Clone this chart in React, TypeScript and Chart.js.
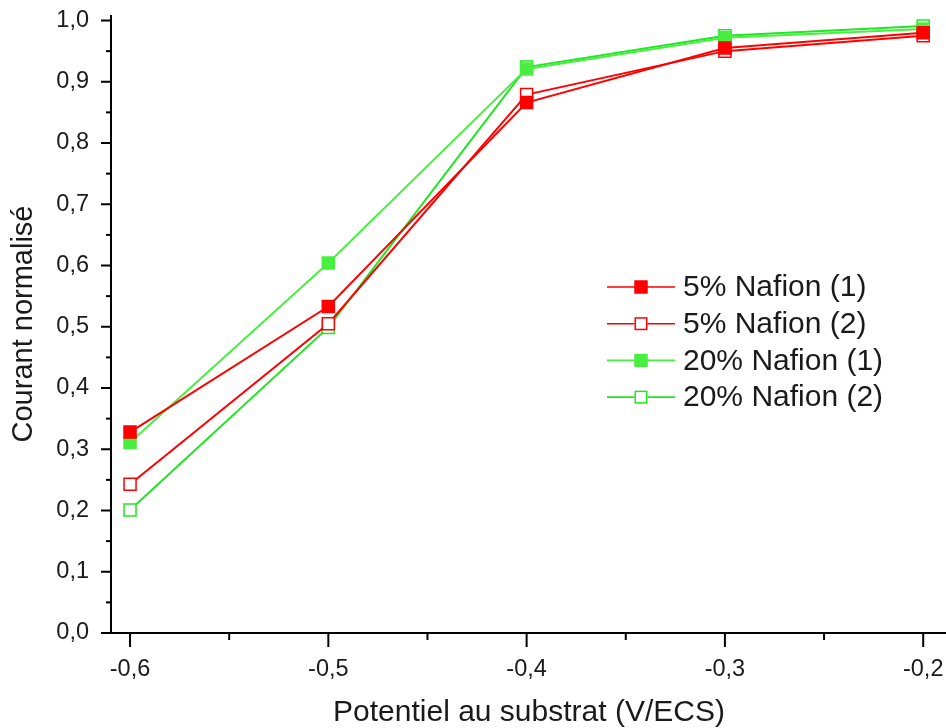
import React, { useEffect, useRef } from "react";
import { Chart, registerables } from "chart.js";

Chart.register(...registerables);

const potentials = [-0.6, -0.5, -0.4, -0.3, -0.2];
const nafion5_1 = [0.328, 0.533, 0.866, 0.955, 0.98];
const nafion5_2 = [0.243, 0.505, 0.879, 0.95, 0.975];
const nafion20_1 = [0.311, 0.604, 0.921, 0.972, 0.986];
const nafion20_2 = [0.201, 0.499, 0.924, 0.975, 0.991];
const seriesLabels = ["5% Nafion (1)", "5% Nafion (2)", "20% Nafion (1)", "20% Nafion (2)"];
const xTickValues = [-0.6, -0.5, -0.4, -0.3, -0.2];
const yTickValues = [0, 0.1, 0.2, 0.3, 0.4, 0.5, 0.6, 0.7, 0.8, 0.9, 1.0];

const RED = "#ff0000";
const GREEN1 = "#48ee40";
const GREEN2 = "#1fe61f";
const FONT = "'Liberation Sans', Arial, sans-serif";

const toPoints = (ys: number[]) => potentials.map((x, i) => ({ x, y: ys[i] }));

const axesPlugin = {
  id: "originAxes",
  afterDraw(chart: any) {
    const { ctx, chartArea, scales } = chart;
    const xs = scales.x;
    const ys = scales.y;
    ctx.save();
    ctx.strokeStyle = "#000";
    ctx.lineWidth = 2;
    ctx.lineCap = "butt";
    ctx.beginPath();
    ctx.moveTo(chartArea.left, chartArea.top);
    ctx.lineTo(chartArea.left, chartArea.bottom + 1);
    ctx.moveTo(chartArea.left - 1, chartArea.bottom);
    ctx.lineTo(chartArea.right, chartArea.bottom);
    ctx.stroke();
    for (let i = 0; i <= 20; i++) {
      const v = i * 0.05;
      const py = ys.getPixelForValue(v);
      const len = i % 2 === 0 ? 10 : 5;
      ctx.beginPath();
      ctx.moveTo(chartArea.left - len, py);
      ctx.lineTo(chartArea.left, py);
      ctx.stroke();
    }
    for (let i = 0; i <= 8; i++) {
      const v = -0.6 + i * 0.05;
      const px = xs.getPixelForValue(v);
      const len = i % 2 === 0 ? 14 : 7;
      ctx.beginPath();
      ctx.moveTo(px, chartArea.bottom);
      ctx.lineTo(px, chartArea.bottom + len);
      ctx.stroke();
    }
    const lx0 = 607;
    const lx1 = 675;
    const ly0 = 287;
    const dy = 36.7;
    chart.data.datasets.forEach((ds: any, i: number) => {
      const y = ly0 + i * dy;
      ctx.strokeStyle = ds.borderColor;
      ctx.lineWidth = 1.6;
      ctx.beginPath();
      ctx.moveTo(lx0, y);
      ctx.lineTo(lx1, y);
      ctx.stroke();
      const s = 13;
      const cx = (lx0 + lx1) / 2;
      ctx.fillStyle = ds.pointBackgroundColor;
      ctx.fillRect(cx - s / 2, y - s / 2, s, s);
      ctx.lineWidth = 1.5;
      ctx.strokeStyle = ds.pointBorderColor;
      ctx.strokeRect(cx - s / 2 + 0.75, y - s / 2 + 0.75, s - 1.5, s - 1.5);
      ctx.fillStyle = "#1a1a1a";
      ctx.font = `30px ${FONT}`;
      ctx.textAlign = "left";
      ctx.textBaseline = "middle";
      ctx.fillText(ds.label, 683, y + 1);
    });
    ctx.restore();
  },
};

export default function App() {
  const ref = useRef<HTMLCanvasElement | null>(null);
  useEffect(() => {
    if (!ref.current) return;
    const mk = (label: string, data: number[], color: string, filled: boolean) => ({
      label,
      data: toPoints(data),
      borderColor: color,
      backgroundColor: color,
      borderWidth: 2,
      pointStyle: "rect",
      pointRadius: 8.5,
      pointHoverRadius: 8.5,
      pointBorderWidth: 1.5,
      pointBorderColor: color,
      pointBackgroundColor: filled ? color : "#ffffff",
      tension: 0,
      fill: false,
    });
    const chart = new Chart(ref.current, {
      type: "line",
      data: {
        datasets: [
          mk(seriesLabels[0], nafion5_1, RED, true),
          mk(seriesLabels[1], nafion5_2, RED, false),
          mk(seriesLabels[2], nafion20_1, GREEN1, true),
          mk(seriesLabels[3], nafion20_2, GREEN2, false),
        ],
      },
      options: {
        responsive: false,
        animation: false,
        events: [],
        layout: { padding: { top: 15, right: 0, left: 0, bottom: 0 } },
        plugins: { legend: { display: false }, tooltip: { enabled: false } },
        scales: {
          x: {
            type: "linear",
            min: -0.6096,
            max: -0.188,
            grid: { display: false, drawTicks: false },
            border: { display: false },
            afterBuildTicks: (s: any) => {
              s.ticks = xTickValues.map((v) => ({ value: v }));
            },
            afterFit: (s: any) => {
              s.height = 95;
              s.paddingLeft = 0;
              s.paddingRight = 0;
            },
            ticks: {
              padding: 22,
              color: "#1a1a1a",
              font: { family: FONT, size: 23.5 },
              maxRotation: 0,
              autoSkip: false,
              callback: (v: any) => Number(v).toFixed(1).replace(".", ","),
            },
            title: {
              display: true,
              text: "Potentiel au substrat (V/ECS)",
              color: "#1a1a1a",
              font: { family: FONT, size: 30 },
              padding: { top: 0, bottom: -3 },
            },
          },
          y: {
            type: "linear",
            min: 0,
            max: 1.009,
            grid: { display: false, drawTicks: false },
            border: { display: false },
            afterBuildTicks: (s: any) => {
              s.ticks = yTickValues.map((v) => ({ value: v }));
            },
            afterFit: (s: any) => {
              s.width = 111;
              s.paddingTop = 0;
              s.paddingBottom = 0;
            },
            ticks: {
              padding: 22,
              color: "#1a1a1a",
              font: { family: FONT, size: 23.5 },
              autoSkip: false,
              callback: (v: any) => Number(v).toFixed(1).replace(".", ","),
            },
            title: {
              display: true,
              text: "Courant normalisé",
              color: "#1a1a1a",
              font: { family: FONT, size: 29 },
              padding: { top: 7, bottom: 0 },
            },
          },
        },
      },
      plugins: [axesPlugin],
    } as any);
    return () => chart.destroy();
  }, []);
  return (
    <div
      style={{
        position: "fixed",
        left: 0,
        top: 0,
        width: 946,
        height: 728,
        overflow: "hidden",
        background: "#fff",
      }}
    >
      <canvas ref={ref} width={957} height={728} style={{ display: "block" }} />
    </div>
  );
}
